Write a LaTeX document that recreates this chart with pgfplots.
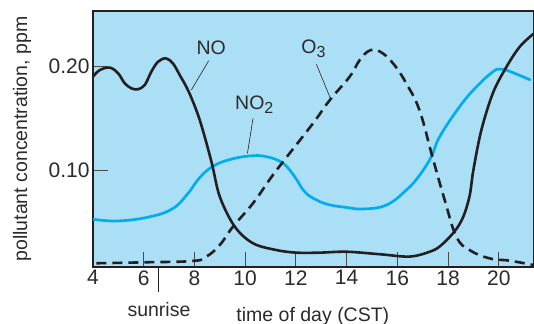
\documentclass[border=0pt]{standalone}
\usepackage{pgfplots}
\pgfplotsset{compat=1.18}
\usepackage{fontspec}
\setmainfont{Liberation Sans}
\definecolor{bgblue}{HTML}{ABDFF6}
\definecolor{cyanline}{HTML}{00AEEF}
\definecolor{ink}{HTML}{231F20}
\definecolor{txt}{HTML}{2B2B2B}
\definecolor{tickgray}{HTML}{4A4A4A}
\begin{document}
\begin{tikzpicture}
\begin{axis}[
  name=ax,
  scale only axis, width=441bp, height=256bp,
  xmin=4, xmax=21.39, ymin=0.0067, ymax=0.2529,
  axis background/.style={fill=bgblue},
  xtick={4,6,...,20},
  ytick={0.1,0.2}, yticklabels={0.10,0.20},
  tick align=inside, tick pos=left, major tick length=15bp,
  tick style={line width=0.9bp, color=tickgray},
  axis line style={line width=1.2bp, color=ink},
  tick label style={font=\fontsize{21bp}{24bp}\selectfont, text=txt},
  /pgf/number format/assume math mode=true,
  clip mode=individual,
]
% NO2
\addplot[cyanline, line width=2.7bp, smooth, tension=0.7] coordinates {
(4.0,0.0526) (5.0,0.051) (6.24,0.055) (7.15,0.063) (7.75,0.0776)
(8.2,0.0925) (8.73,0.1035) (9.39,0.110) (10.18,0.1135) (10.84,0.1128) (11.49,0.1065)
(11.95,0.0936) (12.35,0.079) (12.81,0.0712) (13.33,0.0665) (14.0,0.064) (14.65,0.0625)
(15.57,0.0663) (16.36,0.0808) (16.88,0.095) (17.34,0.1128) (17.67,0.132) (18.46,0.161)
(19.12,0.180) (19.77,0.1945) (20.04,0.197) (20.36,0.1955) (20.82,0.191) (21.26,0.1865)
};
% NO
\addplot[ink, line width=2.6bp, smooth, tension=0.55] coordinates {
(4.0,0.1897) (4.26,0.196) (4.66,0.1985) (4.99,0.193) (5.25,0.1834) (5.51,0.1786)
(5.77,0.1776) (6.04,0.1817) (6.30,0.1945) (6.56,0.204) (6.87,0.2074) (7.15,0.2026)
(7.42,0.1913) (7.78,0.175) (8.21,0.148) (8.67,0.108) (9.0,0.0743) (9.59,0.0455)
(10.31,0.0295) (11.23,0.023) (12.02,0.0205) (12.94,0.0205) (13.99,0.0214) (15.3,0.019)
(16.49,0.0167) (17.28,0.0214) (17.7,0.027) (18.26,0.041) (18.6,0.055) (18.85,0.075)
(19.0,0.100) (19.31,0.138) (19.77,0.174) (20.3,0.199) (20.83,0.2186) (21.37,0.231)
};
% O3
\addplot[ink, line width=2.6bp, dash pattern=on 10bp off 6bp, smooth, tension=0.7] coordinates {
(4.13,0.0103) (6.0,0.0112) (7.94,0.0125) (8.47,0.0167) (9.0,0.0279) (9.52,0.0455)
(10.31,0.068) (11.0,0.092) (11.56,0.110) (12.68,0.145) (13.33,0.167) (14.12,0.1897)
(14.52,0.2058) (14.92,0.215) (15.32,0.2138) (15.83,0.2026) (16.36,0.183) (16.88,0.157)
(17.38,0.113) (17.87,0.071) (18.33,0.0359) (18.85,0.023) (19.64,0.015) (20.42,0.0128)
(21.35,0.0087)
};
\coordinate (sr) at (axis cs:6.6,0.0067);
\coordinate (xl) at (axis cs:12.67,0.0067);
\coordinate (yl) at (rel axis cs:0,0.5);
\node[text=txt, font=\fontsize{19.5bp}{23bp}\selectfont] at (axis cs:8.66,0.218) {NO};
\draw[ink, line width=0.6bp] (axis cs:8.56,0.205) -- (axis cs:7.88,0.177);
\node[text=txt, font=\fontsize{19.5bp}{23bp}\selectfont] at (axis cs:10.37,0.163) {NO\textsubscript{\fontsize{16bp}{18bp}\selectfont 2}};
\draw[ink, line width=0.6bp] (axis cs:10.31,0.1497) -- (axis cs:10.09,0.116);
\node[text=txt, font=\fontsize{19.5bp}{23bp}\selectfont] at (axis cs:12.70,0.2165) {O\textsubscript{\fontsize{16bp}{18bp}\selectfont 3}};
\draw[ink, line width=0.6bp] (axis cs:12.81,0.2016) -- (axis cs:13.36,0.169);
\end{axis}
\draw[ink, line width=0.9bp] (sr) -- ++(0,-25bp);
\node[text=txt, font=\fontsize{19.5bp}{23bp}\selectfont, anchor=base] at ([yshift=-49bp]sr) {sunrise};
\node[text=txt, font=\fontsize{19.5bp}{23bp}\selectfont, anchor=base] at ([yshift=-54bp]xl) {time of day (CST)};
\node[text=txt, font=\fontsize{19.5bp}{23bp}\selectfont, rotate=90, anchor=center] at ([xshift=-71bp]yl) {pollutant concentration, ppm};
\pgfresetboundingbox
\path ([xshift=-93bp,yshift=-57bp]ax.south west) rectangle ([yshift=11bp]ax.north east);
\end{tikzpicture}
\end{document}
